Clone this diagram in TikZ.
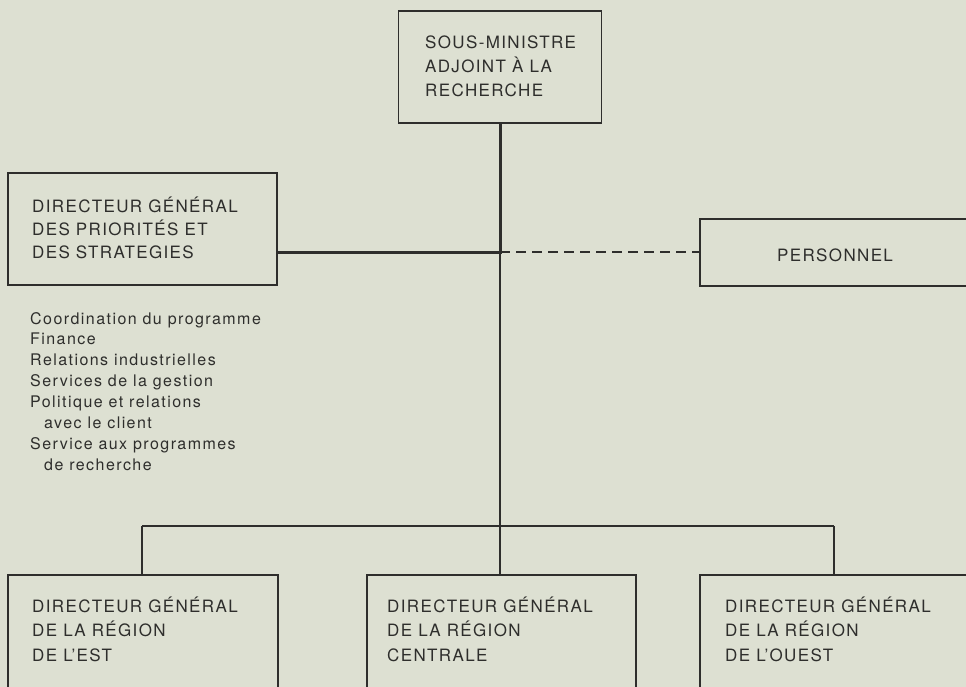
\documentclass[tikz,border=0pt]{standalone}
\usepackage{fontspec}
\setmainfont[LetterSpace=8]{TeX Gyre Heros}
\newfontfamily\listfont[LetterSpace=9]{TeX Gyre Heros}
\definecolor{bg}{RGB}{221,224,210}
\definecolor{ink}{RGB}{46,46,44}
\begin{document}
\begin{tikzpicture}[x=1pt,y=-1pt,
  box/.style={draw=ink, line width=1.5pt, rectangle, inner sep=0pt},
  boxtext/.style={anchor=base west, inner sep=0pt, text=ink, font=\fontsize{17}{24}\selectfont},
  listtext/.style={anchor=base west, inner sep=0pt, text=ink, font=\listfont\fontsize{16}{20.9}\selectfont},
  heavy/.style={draw=ink, line width=3pt},
  light/.style={draw=ink, line width=1.6pt},
  dashline/.style={draw=ink, line width=1.3pt, dash pattern=on 10pt off 6pt}]
\useasboundingbox (0,0) rectangle (966,687);
\fill[bg] (0,0) rectangle (966,687);
\begin{scope}
\clip (0,0) rectangle (966,687);
% boxes
\node[box, minimum width=203pt, minimum height=112pt] (dm) at (500,67) {};
\node[box, minimum width=269pt, minimum height=112pt] (dgp) at (142.5,229) {};
\node[box, minimum width=300pt, minimum height=67pt] (pers) at (850,252.5) {};
\node[box, minimum width=270pt, minimum height=160pt] (est) at (143,655) {};
\node[box, minimum width=269pt, minimum height=160pt] (cen) at (501.5,655) {};
\node[box, minimum width=290pt, minimum height=160pt] (oue) at (845,655) {};
% texts
\node[boxtext] (tdm) at (425,49) {\vtop{\baselineskip=24pt\hbox{SOUS-MINISTRE}\hbox{ADJOINT À LA}\hbox{RECHERCHE}}};
\node[boxtext] (tdgp) at (32,212) {\vtop{\baselineskip=23.5pt\hbox{DIRECTEUR GÉNÉRAL}\hbox{DES PRIORITÉS ET}\hbox{DES STRATEGIES}}};
\node[boxtext] (tpers) at (777,261) {PERSONNEL};
\node[boxtext] (test) at (32,612) {\vtop{\baselineskip=24.5pt\hbox{DIRECTEUR GÉNÉRAL}\hbox{DE LA RÉGION}\hbox{DE L’EST}}};
\node[boxtext] (tcen) at (387,612) {\vtop{\baselineskip=24.5pt\hbox{DIRECTEUR GÉNÉRAL}\hbox{DE LA RÉGION}\hbox{CENTRALE}}};
\node[boxtext] (toue) at (725,612) {\vtop{\baselineskip=24.5pt\hbox{DIRECTEUR GÉNÉRAL}\hbox{DE LA RÉGION}\hbox{DE L’OUEST}}};
\node[listtext] (list) at (30,324) {\vtop{\baselineskip=20.9pt
  \hbox{Coordination du programme}
  \hbox{Finance}
  \hbox{Relations industrielles}
  \hbox{Services de la gestion}
  \hbox{Politique et relations}
  \hbox{\hspace{14pt}avec le client}
  \hbox{Service aux programmes}
  \hbox{\hspace{14pt}de recherche}}};
% connectors
\coordinate (J) at (500,252);
\coordinate (B) at (500,526);
\coordinate (BL) at (142,526);
\coordinate (BR) at (834,526);
\draw[heavy] (dm.south) -- (J) -- (J -| dgp.east);
\draw[light] (J) -- (B);
\draw[dashline] (J) -- (J -| pers.west);
\draw[light] (BL) -- (BR);
\draw[light] (BL) -- (BL |- est.north);
\draw[light] (B) -- (B |- cen.north);
\draw[light] (BR) -- (BR |- oue.north);
\end{scope}
\end{tikzpicture}
\end{document}
